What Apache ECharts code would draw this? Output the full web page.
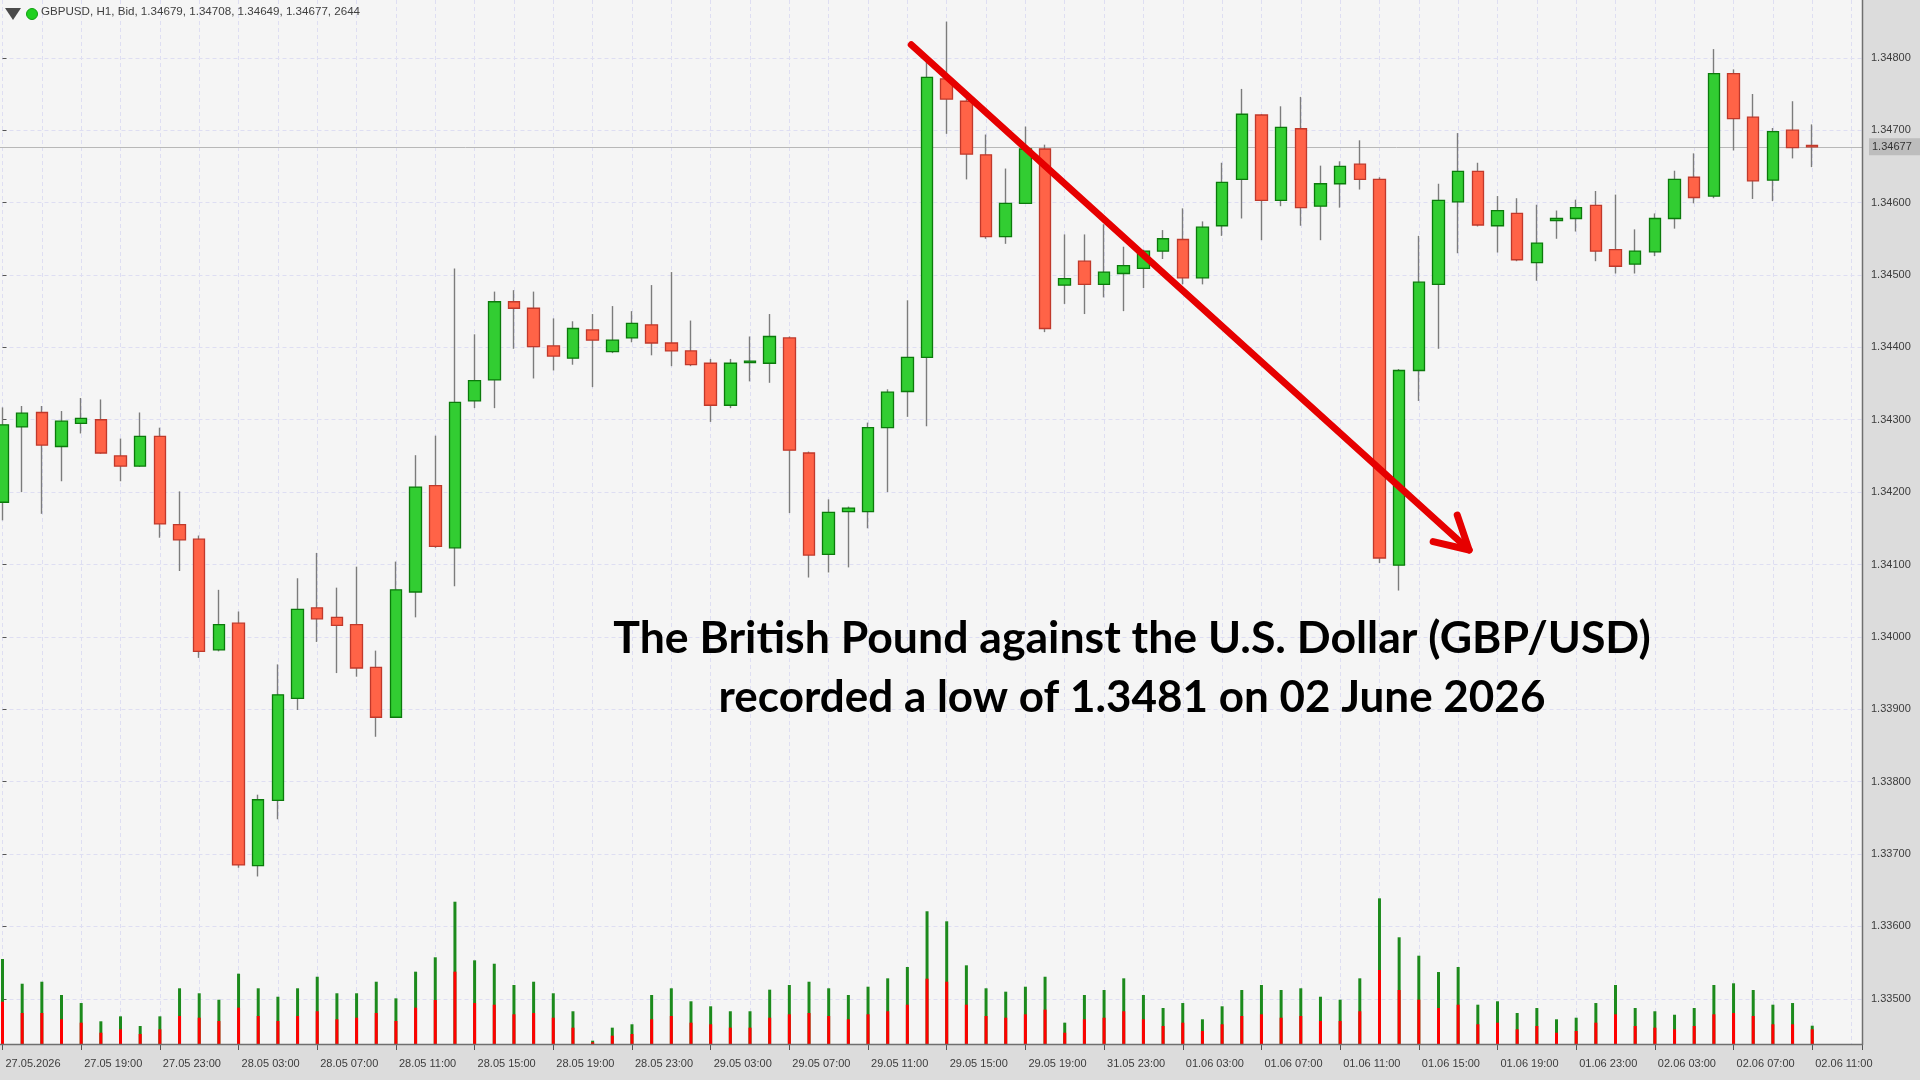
<!DOCTYPE html>
<html><head><meta charset="utf-8">
<script src="https://cdn.jsdelivr.net/npm/echarts@6/dist/echarts.min.js"></script>
<style>html,body{margin:0;padding:0;background:#f5f5f5;overflow:hidden}#c{width:1920px;height:1080px}</style>
</head><body><div id="c"></div>
<script>
// ---------- data ----------
const tickLabels = ["27.05.2026","27.05 19:00","27.05 23:00","28.05 03:00","28.05 07:00","28.05 11:00","28.05 15:00","28.05 19:00","28.05 23:00","29.05 03:00","29.05 07:00","29.05 11:00","29.05 15:00","29.05 19:00","31.05 23:00","01.06 03:00","01.06 07:00","01.06 11:00","01.06 15:00","01.06 19:00","01.06 23:00","02.06 03:00","02.06 07:00","02.06 11:00"];
const openP = [1.34186,1.34290,1.34310,1.34263,1.34295,1.34300,1.34250,1.34236,1.34277,1.34155,
1.34135,1.33982,1.34019,1.33684,1.33774,1.33915,1.34040,1.34027,1.34017,1.33958,
1.33889,1.34062,1.34209,1.34123,1.34326,1.34355,1.34463,1.34454,1.34402,1.34385,
1.34424,1.34394,1.34413,1.34431,1.34406,1.34395,1.34378,1.34320,1.34379,1.34378,
1.34413,1.34254,1.34114,1.34173,1.34173,1.34289,1.34339,1.34386,1.34771,1.34740,
1.34666,1.34553,1.34599,1.34674,1.34486,1.34519,1.34487,1.34502,1.34509,1.34533,
1.34549,1.34496,1.34568,1.34632,1.34721,1.34603,1.34702,1.34595,1.34626,1.34653,
1.34632,1.34099,1.34368,1.34487,1.34601,1.34643,1.34568,1.34585,1.34517,1.34575,
1.34578,1.34596,1.34535,1.34515,1.34532,1.34578,1.34635,1.34609,1.34778,1.34718,
1.34631,1.34700,1.34679];
const highP = [1.34317,1.34319,1.34319,1.34312,1.34330,1.34328,1.34274,1.34310,1.34289,1.34201,
1.34140,1.34065,1.34035,1.33782,1.33962,1.34081,1.34116,1.34068,1.34097,1.33981,
1.34104,1.34251,1.34278,1.34509,1.34418,1.34477,1.34479,1.34477,1.34440,1.34436,
1.34446,1.34457,1.34450,1.34486,1.34504,1.34437,1.34384,1.34384,1.34415,1.34446,
1.34415,1.34256,1.34190,1.34180,1.34296,1.34342,1.34465,1.34795,1.34850,1.34745,
1.34694,1.34647,1.34705,1.34680,1.34556,1.34556,1.34570,1.34539,1.34535,1.34562,
1.34592,1.34574,1.34655,1.34757,1.34722,1.34733,1.34746,1.34651,1.34657,1.34686,
1.34635,1.34370,1.34554,1.34626,1.34696,1.34655,1.34609,1.34606,1.34597,1.34589,
1.34604,1.34616,1.34611,1.34563,1.34585,1.34644,1.34668,1.34812,1.34784,1.34750,
1.34703,1.34740,1.34708];
const lowP = [1.34161,1.34200,1.34170,1.34215,1.34281,1.34253,1.34215,1.34235,1.34137,1.34091,
1.33971,1.33980,1.33681,1.33669,1.33748,1.33899,1.33993,1.33950,1.33945,1.33862,
1.33888,1.34027,1.34123,1.34070,1.34316,1.34316,1.34398,1.34357,1.34368,1.34376,
1.34345,1.34392,1.34407,1.34389,1.34374,1.34374,1.34297,1.34316,1.34353,1.34351,
1.34171,1.34082,1.34089,1.34096,1.34150,1.34200,1.34304,1.34291,1.34695,1.34632,
1.34550,1.34543,1.34598,1.34421,1.34460,1.34446,1.34469,1.34450,1.34482,1.34522,
1.34487,1.34487,1.34554,1.34578,1.34548,1.34595,1.34568,1.34548,1.34593,1.34618,
1.34102,1.34064,1.34326,1.34398,1.34530,1.34567,1.34531,1.34519,1.34492,1.34550,
1.34560,1.34519,1.34502,1.34502,1.34526,1.34564,1.34599,1.34606,1.34672,1.34605,
1.34602,1.34661,1.34649];
const closeP = [1.34293,1.34309,1.34265,1.34298,1.34302,1.34254,1.34236,1.34277,1.34156,1.34134,
1.33980,1.34017,1.33685,1.33775,1.33920,1.34038,1.34025,1.34016,1.33957,1.33889,
1.34065,1.34207,1.34125,1.34324,1.34354,1.34463,1.34454,1.34401,1.34388,1.34426,
1.34410,1.34410,1.34433,1.34406,1.34395,1.34376,1.34320,1.34378,1.34381,1.34415,
1.34258,1.34113,1.34172,1.34178,1.34289,1.34338,1.34386,1.34773,1.34743,1.34667,
1.34553,1.34599,1.34674,1.34426,1.34495,1.34487,1.34504,1.34513,1.34533,1.34550,
1.34496,1.34566,1.34628,1.34722,1.34603,1.34704,1.34593,1.34626,1.34650,1.34632,
1.34109,1.34368,1.34490,1.34603,1.34643,1.34569,1.34589,1.34521,1.34544,1.34578,
1.34593,1.34533,1.34512,1.34533,1.34578,1.34632,1.34607,1.34778,1.34716,1.34630,
1.34698,1.34676,1.34677];
const volTotal = [12280,8710,9000,7080,5920,3280,4000,2600,4000,8050,
7330,6400,10160,8050,6830,8050,9720,7330,7330,9000,
6600,10450,12530,20560,12090,11600,8530,9000,7330,4730,
480,2360,2850,7080,8050,6170,5450,4730,4730,7850,
8530,9000,8050,7080,8280,9490,11130,19180,17730,11370,
8050,7560,8280,9720,3080,7080,7800,9490,7080,5200,
5920,3570,5450,7800,8530,7800,8050,6830,6400,9490,
21050,15420,12760,10400,11130,5680,6170,4480,5200,3570,
3800,5920,8530,5200,4730,4230,5200,8530,8770,7800,
5680,5920,2644];
const volPart = [6110,4480,4480,3570,3080,1630,2120,1450,2120,4050,
3800,3320,5250,4050,3320,4050,4730,3570,3800,4480,
3320,5250,6360,10450,5920,5680,4290,4480,3800,2360,
250,1200,1450,3570,4050,3080,2850,2360,2360,3800,
4290,4480,4050,3570,4290,4730,5680,9440,9000,5680,
4050,3800,4290,4960,1630,3570,3800,4730,3570,2600,
3080,1880,2850,4050,4290,3800,4050,3320,3320,4730,
10690,7800,6400,5200,5680,2850,3080,2120,2600,1630,
1880,3080,4290,2600,2360,2120,2600,4290,4480,4050,
2850,2850,2120];
const headerText = "GBPUSD, H1, Bid, 1.34679, 1.34708, 1.34649, 1.34677, 2644";
const annotationLines = ["The British Pound against the U.S. Dollar (GBP/USD)", "recorded a low of 1.3481 on 02 June 2026"];
const arrowFrom = [46.2, 1.34818];
const arrowTo = [74.56, 1.34120];
const priceMin = 1.335, priceMax = 1.349, priceStep = 0.001;

// ---------- layout / style ----------
const XMAX = 94.53;
const PLOT_RIGHT = 1862, PLOT_BOTTOM = 1044;
const axisFont = "'Liberation Sans', Arial, sans-serif";
const axisFontSize = 11;
const gridLine = {show:true, lineStyle:{color:'#dedef2', type:[4,3], width:1}};

const N = closeP.length;
const idx = closeP.map((_, i) => i);
const wickData = idx.map(i => [i, openP[i], closeP[i], lowP[i], highP[i]]);
const bodyData = idx.map(i => [i, openP[i], closeP[i], Math.min(openP[i], closeP[i]), Math.max(openP[i], closeP[i])]);
const volData = idx.map(i => [i, volTotal[i]]);
const volPartData = idx.map(i => [i, volPart[i]]);

const chart = echarts.init(document.getElementById('c'), null, {renderer:'canvas', width:1920, height:1080});
const pxPerPrice = 72.385 / 0.001;
const priceGridTop = 57.8 - (priceMax - 1.348) * pxPerPrice;
const priceGridHeight = (priceMax - priceMin) * pxPerPrice;

chart.setOption({
  animation: false,
  backgroundColor: '#f5f5f5',
  grid: [
    {left: 2.5, right: 1920 - PLOT_RIGHT, top: priceGridTop, height: priceGridHeight, containLabel: false, outerBoundsMode: 'none'},
    {left: 2.5, right: 1920 - PLOT_RIGHT, top: 744, bottom: 1080 - PLOT_BOTTOM, containLabel: false, outerBoundsMode: 'none'},
    {left: 2.5, right: 1920 - PLOT_RIGHT, top: 0, bottom: 1080 - PLOT_BOTTOM, containLabel: false, outerBoundsMode: 'none'}
  ],
  xAxis: [
    {type:'value', gridIndex:0, min:0, max:XMAX, show:false},
    {type:'value', gridIndex:1, min:0, max:XMAX, interval:4, position:'bottom',
      axisLine:{show:false}, splitLine:{show:false},
      axisTick:{show:true, length:6, lineStyle:{color:'#555', width:1}},
      axisLabel:{show:true, align:'left', margin:14, padding:[0,0,0,3], color:'#3c3c3c', fontFamily:axisFont, fontSize:axisFontSize,
        showMinLabel:true, showMaxLabel:true,
        formatter: v => (Math.abs(v/4 - Math.round(v/4)) < 1e-6 && tickLabels[Math.round(v/4)] !== undefined) ? tickLabels[Math.round(v/4)] : ''}},
    {type:'value', gridIndex:2, min:0, max:XMAX, interval:2, axisLine:{show:false}, axisTick:{show:false}, axisLabel:{show:false}, splitLine:gridLine}
  ],
  yAxis: [
    {type:'value', gridIndex:0, position:'right', min:priceMin, max:priceMax, interval:priceStep, scale:true,
      axisLine:{show:false},
      axisTick:{show:true, length:4, lineStyle:{color:'#555', width:1}},
      axisLabel:{show:true, margin:9, color:'#3c3c3c', fontFamily:axisFont, fontSize:axisFontSize, formatter: v => v.toFixed(5)},
      splitLine:gridLine},
    {type:'value', gridIndex:1, min:0, max:43350, show:false, splitLine:{show:false}},
    {type:'value', gridIndex:2, min:0, max:1, show:false, splitLine:{show:false}}
  ],
  series: [
    {type:'bar', name:'vol', xAxisIndex:1, yAxisIndex:1, data:volData, barWidth:3, barGap:'-100%',
      itemStyle:{color:'#1c8a1c'}, silent:true, z:1},
    {type:'bar', name:'volPart', xAxisIndex:1, yAxisIndex:1, data:volPartData, barWidth:3, barGap:'-100%',
      itemStyle:{color:'#ff0000'}, silent:true, z:1},
    {type:'candlestick', name:'wick', xAxisIndex:0, yAxisIndex:0, data:wickData, barWidth:1, clip:false, silent:true,
      itemStyle:{color:'#7c7c7c', color0:'#7c7c7c', borderColor:'#7c7c7c', borderColor0:'#7c7c7c', borderWidth:1.4}},
    {type:'candlestick', name:'body', xAxisIndex:0, yAxisIndex:0, data:bodyData, barWidth:12, clip:false, silent:true,
      itemStyle:{color:'#32cd32', color0:'#ff6347', borderColor:'#0b7a0b', borderColor0:'#c0392b', borderWidth:1.3}}
  ]
});

// ---------- annotation graphics (anchored via the library's scales) ----------
const p1 = chart.convertToPixel({xAxisIndex:0, yAxisIndex:0}, arrowFrom);
const p2 = chart.convertToPixel({xAxisIndex:0, yAxisIndex:0}, arrowTo);
const lastY = chart.convertToPixel({xAxisIndex:0, yAxisIndex:0}, [0, closeP[N-1]])[1];
const dx = p1[0]-p2[0], dy = p1[1]-p2[1], len = Math.hypot(dx, dy);
const ux = dx/len, uy = dy/len, ang = 29*Math.PI/180, hl = 37;
const rot = (a) => [p2[0] + hl*(ux*Math.cos(a) - uy*Math.sin(a)), p2[1] + hl*(ux*Math.sin(a) + uy*Math.cos(a))];
const arrowStyle = {stroke:'#e60000', lineWidth:7, lineCap:'round', lineJoin:'round', fill:null};
const ly = Math.round(lastY) + 0.5;

chart.setOption({
  graphic: [
    {type:'rect', z:-10, silent:true, shape:{x:PLOT_RIGHT, y:0, width:1920-PLOT_RIGHT, height:1080}, style:{fill:'#dcdcdc'}},
    {type:'rect', z:-10, silent:true, shape:{x:0, y:PLOT_BOTTOM, width:1920, height:1080-PLOT_BOTTOM}, style:{fill:'#dcdcdc'}},
    {type:'line', z:1, silent:true, shape:{x1:0, y1:ly, x2:PLOT_RIGHT, y2:ly}, style:{stroke:'#b8b8b8', lineWidth:1}},
    {type:'rect', z:50, silent:true, shape:{x:PLOT_RIGHT+7, y:lastY-8.5, width:1920-PLOT_RIGHT-7, height:17}, style:{fill:'#bdbdbd'}},
    {type:'text', z:51, silent:true, x:PLOT_RIGHT+10, y:lastY, style:{text:closeP[N-1].toFixed(5), fill:'#333', font:axisFontSize + "px " + axisFont, textVerticalAlign:'middle', textAlign:'left'}},
    {type:'line', z:50, silent:true, shape:{x1:PLOT_RIGHT+0.5, y1:0, x2:PLOT_RIGHT+0.5, y2:PLOT_BOTTOM+1}, style:{stroke:'#6f6f6f', lineWidth:1.5}},
    {type:'line', z:50, silent:true, shape:{x1:0, y1:PLOT_BOTTOM+0.5, x2:PLOT_RIGHT+1, y2:PLOT_BOTTOM+0.5}, style:{stroke:'#6f6f6f', lineWidth:1.5}},
    {type:'polyline', z:60, silent:true, shape:{points:[p1, p2]}, style:arrowStyle},
    {type:'polyline', z:60, silent:true, shape:{points:[rot(-ang), p2, rot(ang)]}, style:arrowStyle},
    {type:'polygon', z:60, silent:true, shape:{points:[[5,8],[21,8],[13,20]]}, style:{fill:'#4a4a4a'}},
    {type:'circle', z:60, silent:true, shape:{cx:32, cy:14, r:5.5}, style:{fill:'#1fd01f', stroke:'#10a010', lineWidth:1}},
    {type:'text', z:60, silent:true, x:41, y:12, style:{text:headerText, fill:'#404040', font:"11.6px " + axisFont, textVerticalAlign:'middle', textAlign:'left'}},
    {type:'text', z:60, silent:true, x:1132, y:639, style:{text:annotationLines[0], fill:'#000', font:"bold 44.6px Lato, 'Open Sans', sans-serif", textAlign:'center', textVerticalAlign:'middle'}},
    {type:'text', z:60, silent:true, x:1132, y:698, style:{text:annotationLines[1], fill:'#000', font:"bold 44px Lato, 'Open Sans', sans-serif", textAlign:'center', textVerticalAlign:'middle'}}
  ]
});
</script></body></html>
